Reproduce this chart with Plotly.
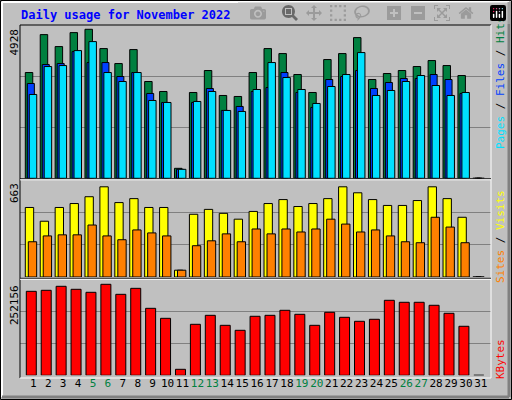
import plotly.graph_objects as go

days = list(range(1, 32))
day_labels = [str(d) for d in days]
weekend_days = [5, 6, 12, 13, 19, 20, 26, 27]

hits = [3498, 4752, 4356, 4818, 4928, 4290, 3795, 4257, 3201, 2871, 330, 2838, 3564, 2739, 2706,
        3498, 4290, 4125, 3432, 2838, 3927, 4125, 4653, 3267, 3465, 3564, 3696, 3894, 3729, 3399, 0]
files = [3135, 3762, 3795, 4191, 3828, 3828, 3366, 3498, 2805, 2508, 297, 2508, 2970, 2244, 2376,
         2871, 3003, 3498, 2838, 2343, 3267, 3366, 3564, 2970, 3168, 3300, 3300, 3432, 3267, 2805, 0]
pages = [2772, 3696, 3729, 4224, 4521, 3498, 3201, 3498, 2574, 2508, 297, 2541, 2871, 2244, 2211,
         2937, 3828, 3333, 2937, 2475, 3036, 3432, 4158, 2739, 2904, 3201, 3399, 3069, 2739, 2838, 0]
visits = [511, 410, 511, 540, 590, 663, 547, 576, 511, 511, 50, 461, 497, 468, 425,
          482, 540, 569, 518, 540, 576, 663, 619, 569, 526, 526, 562, 663, 576, 439, 0]
sites = [259, 302, 310, 310, 382, 302, 274, 346, 324, 302, 50, 230, 266, 317, 259,
         353, 317, 353, 331, 353, 425, 389, 331, 346, 302, 259, 252, 439, 367, 252, 0]
kbytes = [232700, 235500, 246600, 238300, 230000, 252156, 224400, 241000, 185600, 157900, 16600,
          141300, 166200, 138500, 124700, 163500, 166200, 180100, 169000, 138500, 174600, 160700,
          149600, 155200, 207800, 202300, 202300, 194000, 171800, 135800, 0]

max_hits = 4928
max_visits = 663
max_kb = 252156

W, H = 512, 400
def px(x): return x / W
def py(y): return 1 - y / H

top_rng = 5060
mid_rng = 713
bot_rng = 263240

fig = go.Figure()
line = dict(color="black", width=1)
def bar(y, color, off, w, ax):
    fig.add_trace(go.Bar(x=days, y=y, marker=dict(color=color, line=line),
                         offset=off, width=w, yaxis=ax, showlegend=False, hoverinfo="skip"))

bar(hits, "#008040", -0.536, 0.50, "y")
bar(files, "#0040FF", -0.40, 0.47, "y")
bar(pages, "#00E0FF", -0.27, 0.50, "y")
bar(visits, "#FFFF00", -0.536, 0.56, "y2")
bar(sites, "#FF8000", -0.335, 0.56, "y2")
bar(kbytes, "#FF0000", -0.47, 0.67, "y3")

ticktext = [f"<span style='color:#008040'>{l}</span>" if int(l) in weekend_days else l
            for l in day_labels]

def yax(dom, rng):
    return dict(domain=dom, range=[0, rng], tickvals=[rng / 3, 2 * rng / 3], showticklabels=False,
                gridcolor="#808080", gridwidth=1, zeroline=False, showline=False, fixedrange=True)

fig.update_layout(
    width=W, height=H, margin=dict(l=0, r=0, t=0, b=0),
    paper_bgcolor="#C0C0C0", plot_bgcolor="#C0C0C0", barmode="overlay",
    font=dict(family="DejaVu Sans Mono", size=11, color="black"),
    xaxis=dict(domain=[px(20), px(491)], range=[0.108, 31.68], tickvals=days, ticktext=ticktext,
               anchor="y3", showgrid=False, zeroline=False, ticks="", showline=False,
               tickangle=0, automargin=False,
               tickfont=dict(family="DejaVu Sans Mono", size=11)),
    yaxis=yax([py(178.3), py(25.3)], top_rng),
    yaxis2=yax([py(277), py(180)], mid_rng),
    yaxis3=yax([py(375.3), py(280.3)], bot_rng),
)

shapes = []
def ln(x0, y0, x1, y1, c, w=1):
    shapes.append(dict(type="line", xref="paper", yref="paper", x0=px(x0), y0=py(y0),
                       x1=px(x1), y1=py(y1), line=dict(color=c, width=w)))
# outer frame
ln(0.5, 0.5, 511.5, 0.5, "black"); ln(0.5, 0.5, 0.5, 399.5, "black")
ln(511.5, 0.5, 511.5, 399.5, "black"); ln(0.5, 399.5, 511.5, 399.5, "black")
ln(2, 2, 509, 2, "white", 2); ln(2, 2, 2, 397, "white", 2)
ln(509, 2, 509, 397, "#808080", 3); ln(2, 397, 509, 397, "#808080", 3)
# plot frame
ln(20, 25, 491, 25, "black"); ln(20, 25, 20, 378, "black")
ln(491, 25, 491, 378, "white"); ln(20, 378, 491, 378, "white")
ln(20, 178.8, 491, 178.8, "black"); ln(20, 179.8, 491, 179.8, "white")
ln(20, 278.3, 491, 278.3, "black"); ln(20, 279.3, 491, 279.3, "white")
fig.update_layout(shapes=shapes)

ann = []
ann.append(dict(text="<b>Daily usage for November 2022</b>", x=px(19), y=py(15), xref="paper",
                yref="paper", xanchor="left", yanchor="middle", showarrow=False,
                font=dict(family="DejaVu Sans Mono", size=12, color="#0000FF")))
for label, ytop in [(str(max_hits), 27), (str(max_visits), 181), (str(max_kb), 283)]:
    ann.append(dict(text=label, x=px(14), y=py(ytop), xref="paper", yref="paper",
                    xanchor="center", yanchor="top", textangle=-90, showarrow=False,
                    font=dict(family="DejaVu Sans Mono", size=11, color="black")))
right = [
    ("<span style='color:#00E0FF'>Pages</span> / <span style='color:#0040FF'>Files</span> / "
     "<span style='color:#008040'>Hits</span>", 83),
    ("<span style='color:#FF8000'>Sites</span> / <span style='color:#FFFF00'>Visits</span>", 237),
    ("<span style='color:#FF0000'>KBytes</span>", 359),
]
for t, yc in right:
    ann.append(dict(text=t, x=px(500), y=py(yc), xref="paper", yref="paper", xanchor="center",
                    yanchor="middle", textangle=-90, showarrow=False,
                    font=dict(family="DejaVu Sans Mono", size=11, color="black")))
fig.update_layout(annotations=ann)

fig.write_html("out.html", post_script="document.body.style.margin='0';document.body.style.overflow='hidden';")
